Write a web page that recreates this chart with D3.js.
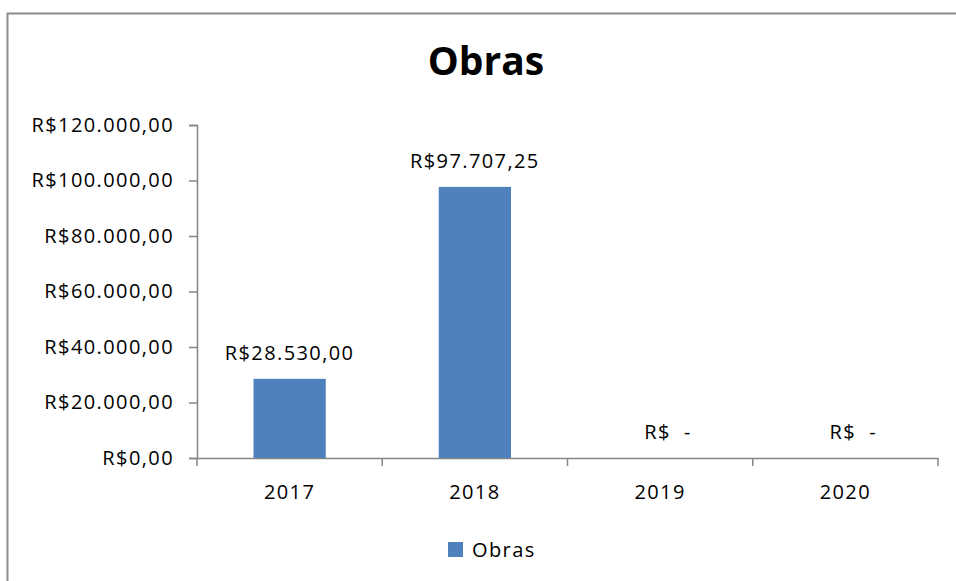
<!DOCTYPE html>
<html>
<head>
<meta charset="utf-8">
<script src="https://cdn.jsdelivr.net/npm/d3@7"></script>
<style>
  body { margin: 0; background: #fff; }
</style>
</head>
<body>
<div class="chart"></div>
<script>
var years = ["2017", "2018", "2019", "2020"];
var obras = [28530, 97707.25, 0, 0];
var yTicks = [0, 20000, 40000, 60000, 80000, 100000, 120000];
var seriesName = "Obras";

var width = 956,
    height = 581,
    font = "'Open Sans', sans-serif",
    spacing = "1.4px";

var brl = d3.formatLocale({
  decimal: ",",
  thousands: ".",
  grouping: [3],
  currency: ["R$", ""]
});
var money = brl.format("$,.2f");
function label(v) { return v === 0 ? "R$  -" : money(v); }

var svg = d3.select(".chart")
  .append("svg")
    .attr("width", width)
    .attr("height", height);

// chart frame (runs off the right and bottom of the picture)
svg.append("rect")
  .attr("x", 7.5)
  .attr("y", 13.5)
  .attr("width", 960)
  .attr("height", 580)
  .style("fill", "#fff")
  .style("stroke", "#8c8c8c")
  .style("stroke-width", 2);

svg.append("text")
  .attr("x", 486)
  .attr("y", 75)
  .attr("text-anchor", "middle")
  .style("font", "bold 39px " + font)
  .style("fill", "#000")
  .text(seriesName);

var x = d3.scaleBand()
  .domain(years)
  .range([197, 938])
  .padding(0);

var y = d3.scaleLinear()
  .domain([0, 120000])
  .range([458, 125]);

var yAxis = svg.append("g")
  .attr("transform", "translate(197,0)")
  .call(d3.axisLeft(y).tickValues(yTicks).tickSize(8).tickPadding(15).tickFormat(money));

var xAxis = svg.append("g")
  .attr("transform", "translate(0,458)")
  .call(d3.axisBottom(x).tickSize(0).tickPadding(27));

// category boundary ticks
xAxis.selectAll(".bound")
  .data(d3.range(years.length + 1)).enter()
  .append("line")
    .attr("class", "bound")
    .attr("x1", function(i) { return 197 + i * x.step(); })
    .attr("x2", function(i) { return 197 + i * x.step(); })
    .attr("y1", 0)
    .attr("y2", 8);

svg.selectAll(".domain, .tick line, .bound")
  .style("stroke", "#868686")
  .style("stroke-width", 1.5);

svg.selectAll(".tick text")
  .style("font", "20px " + font)
  .style("letter-spacing", spacing)
  .style("fill", "#000");

var barW = x.bandwidth() * 0.39;

svg.selectAll(".bar")
  .data(obras).enter()
  .append("rect")
    .attr("class", "bar")
    .attr("x", function(d, i) { return x(years[i]) + x.bandwidth() / 2 - barW / 2; })
    .attr("y", function(d) { return y(d); })
    .attr("width", barW)
    .attr("height", function(d) { return y(0) - y(d); })
    .style("fill", "#4F81BD");

svg.selectAll(".val")
  .data(obras).enter()
  .append("text")
    .attr("class", "val")
    .attr("x", function(d, i) { return x(years[i]) + x.bandwidth() / 2; })
    .attr("dx", function(d) { return d === 0 ? 8 : 0; })
    .attr("y", function(d) { return y(d) - 19; })
    .attr("text-anchor", "middle")
    .style("font", "20px " + font)
    .style("letter-spacing", spacing)
    .style("white-space", "pre")
    .style("fill", "#000")
    .text(label);

// legend
svg.append("rect")
  .attr("x", 448)
  .attr("y", 542)
  .attr("width", 15)
  .attr("height", 15)
  .style("fill", "#4F81BD");

svg.append("text")
  .attr("x", 472)
  .attr("y", 557)
  .style("font", "20px " + font)
  .style("letter-spacing", spacing)
  .style("fill", "#000")
  .text(seriesName);
</script>
</body>
</html>
